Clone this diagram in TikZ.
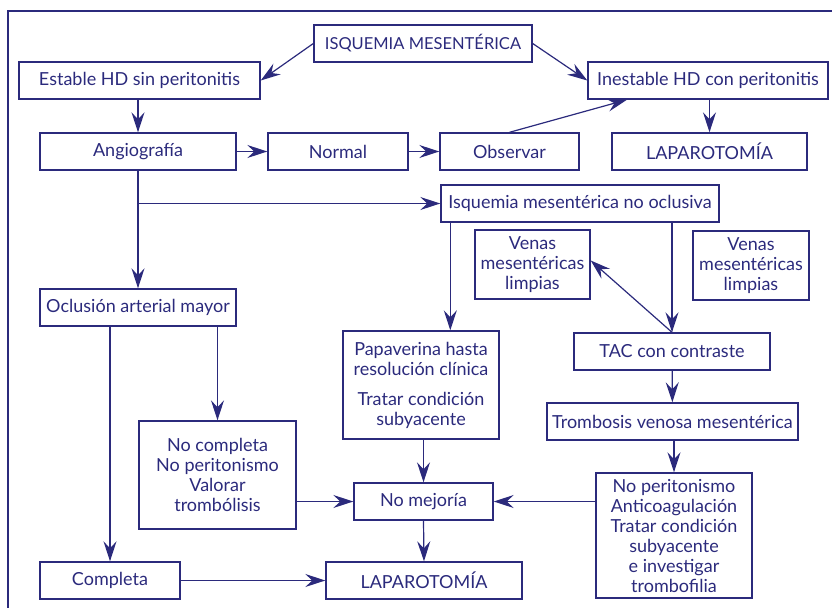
\documentclass[tikz,border=0pt]{standalone}
\usepackage{fontspec}
\setmainfont{Lato}
\usetikzlibrary{arrows.meta, positioning, calc}
\definecolor{cnavy}{HTML}{2B2A7C}
\tikzset{
  every picture/.style={x=1pt, y=-1pt, font=\fontsize{18}{20}\selectfont, line width=1.2pt},
  box/.style={draw=cnavy, text=cnavy, line width=1.4pt, align=center, inner sep=2pt, minimum height=37pt},
  arrow/.style={-{Stealth[length=20pt, width=13pt, inset=7pt]}, draw=cnavy, line width=1.2pt},
  link/.style={draw=cnavy, line width=1.2pt},
}

\begin{document}
\begin{tikzpicture}
  \useasboundingbox (0,0) rectangle (832,608);
  \draw[cnavy, line width=2.5pt] (832,11) -- (8,11) -- (8,608);
  % top row
  \node[box, minimum width=218pt, font=\fontsize{16.5}{20}\selectfont] (isq) at (423,43.5) {ISQUEMIA MESENTÉRICA};
  \node[box, minimum width=241pt] (estable) at (139.5,80.5) {Estable HD sin peritonitis};
  \node[box, minimum width=240pt] (inestable) at (708,80.5) {Inestable HD con peritonitis};
  \node[box, minimum width=196pt] (angio) at (138,151.5) {Angiografía};
  \node[box, minimum width=140pt] (normal) at (338,151.5) {Normal};
  \node[box, minimum width=139pt] (observar) at (509.5,151.5) {Observar};
  \node[box, minimum width=195pt] (laptop) at (709.5,151.5) {LAPAROTOMÍA};
  % no oclusiva / venas
  \node[box, minimum width=278pt] (nooclu) at (580,203.5) {Isquemia mesentérica no oclusiva};
  \node[box, minimum width=115pt, minimum height=69pt] (venasl) at (532.5,264.5) {Venas\\mesentéricas\\limpias};
  \node[box, minimum width=116pt, minimum height=69pt] (venasr) at (751,265.5) {Venas\\mesentéricas\\limpias};
  \node[box, minimum width=196pt] (tac) at (672,351.5) {TAC con contraste};
  \node[box, minimum width=156pt, minimum height=108pt] (papav) at (421,385) {Papaverina hasta\\resolución clínica\\[10pt]Tratar condición\\subyacente};
  \node[box, minimum width=196pt] (oclusion) at (138,307.5) {Oclusión arterial mayor};
  \node[box, minimum width=251pt] (trombosis) at (672.5,421.5) {Trombosis venosa mesentérica};
  % bottom
  \node[box, minimum width=157pt, minimum height=108pt] (nocompleta) at (217.5,475) {No completa\\No peritonismo\\Valorar\\trombólisis};
  \node[box, minimum width=139pt] (nomejoria) at (423.5,501.5) {No mejoría};
  \node[box, minimum width=156pt, minimum height=125pt] (noperit) at (674,535.5) {No peritonismo\\Anticoagulación\\Tratar condición\\subyacente\\e investigar\\trombofilia};
  \node[box, minimum width=140pt] (completa) at (110,580.5) {Completa};
  \node[box, minimum width=196pt] (lapbot) at (424,580.5) {LAPAROTOMÍA};

  % arrows, top
  \draw[arrow] (isq.west) -- (estable.east);
  \draw[arrow] (isq.east) -- (inestable.west);
  \draw[arrow] (angio.north |- estable.south) -- (angio.north);
  \draw[arrow] (angio) -- (normal);
  \draw[arrow] (normal) -- (observar);
  \draw[arrow] (observar.north) -- ([xshift=-81pt]inestable.south);
  \draw[arrow] (laptop.north |- inestable.south) -- (laptop.north);
  % split below angiografia
  \coordinate (split) at (angio.south |- nooclu.west);
  \draw[link] (angio.south) -- (split);
  \draw[arrow] (split) -- (nooclu.west);
  \draw[arrow] (split) -- (oclusion.north);
  \coordinate (p1) at ([xshift=10pt]nooclu.south west);
  \draw[arrow] (p1) -- (p1 |- papav.north);
  \draw[arrow] (tac.north |- nooclu.south) -- (tac.north);
  \draw[arrow] (tac.north) -- ([yshift=4pt]venasl.east);
  \draw[arrow] (tac) -- (trombosis);
  \draw[arrow] (noperit.north |- trombosis.south) -- (noperit.north);
  \draw[arrow] (nomejoria.east -| noperit.west) -- (nomejoria.east);
  \draw[arrow] (nomejoria.north |- papav.south) -- (nomejoria.north);
  \draw[arrow] (nomejoria.south) -- (lapbot.north);
  % oclusion branches
  \draw[arrow] (completa.north |- oclusion.south) -- (completa.north);
  \draw[arrow] (nocompleta.north |- oclusion.south) -- (nocompleta.north);
  \draw[arrow] (nomejoria.west -| nocompleta.east) -- (nomejoria.west);
  \draw[arrow] (completa) -- (lapbot);
\end{tikzpicture}
\end{document}
